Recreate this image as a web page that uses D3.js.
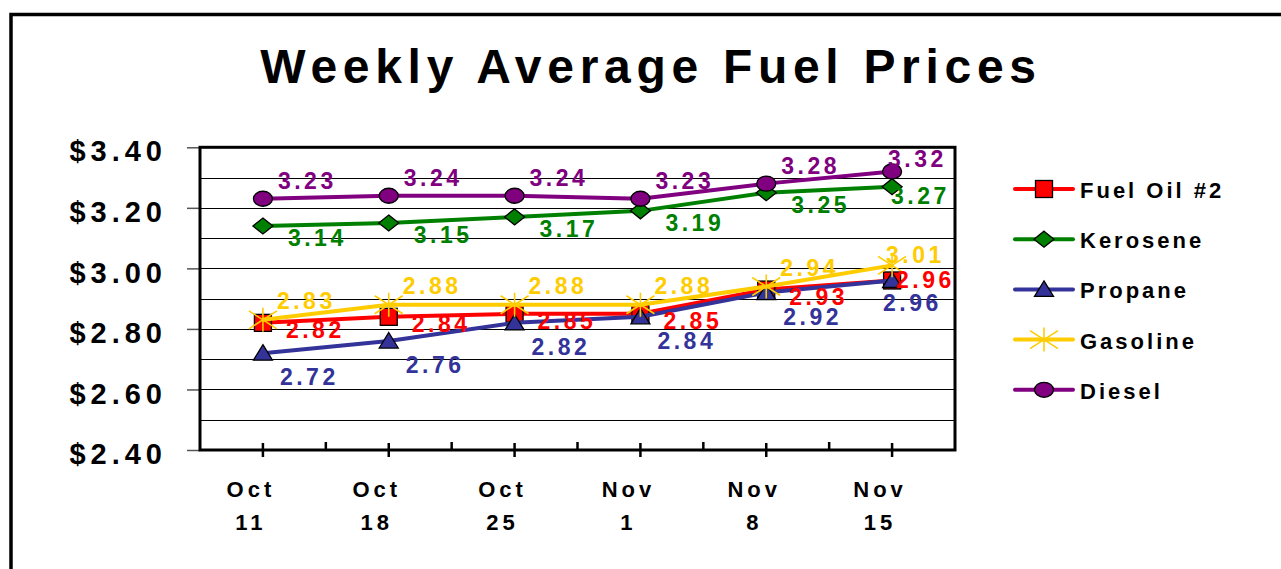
<!DOCTYPE html>
<html>
<head>
<meta charset="utf-8">
<script src="https://cdn.jsdelivr.net/npm/d3@7"></script>
<style>
  html, body { margin: 0; padding: 0; background: #fff; }
  svg { display: block; }
  text { font-family: "Liberation Sans", Arial, sans-serif; font-weight: bold; }
</style>
</head>
<body>
<svg id="chart" width="1281" height="569"></svg>
<script>
// ---------- data ----------
const title = "Weekly Average Fuel Prices";
const categories = ["Oct 11", "Oct 18", "Oct 25", "Nov 1", "Nov 8", "Nov 15"];
const seriesNames = ["Fuel Oil #2", "Kerosene", "Propane", "Gasoline", "Diesel"];
const fuelOil  = [2.82, 2.84, 2.85, 2.85, 2.93, 2.96];
const kerosene = [3.14, 3.15, 3.17, 3.19, 3.25, 3.27];
const propane  = [2.72, 2.76, 2.82, 2.84, 2.92, 2.96];
const gasoline = [2.83, 2.88, 2.88, 2.88, 2.94, 3.01];
const diesel   = [3.23, 3.24, 3.24, 3.23, 3.28, 3.32];
const yTickValues = [2.40, 2.60, 2.80, 3.00, 3.20, 3.40];
const yGridValues = [2.40, 2.50, 2.60, 2.70, 2.80, 2.90, 3.00, 3.10, 3.20, 3.30, 3.40];

const seriesValues = [fuelOil, kerosene, propane, gasoline, diesel];

// ---------- styles ----------
const styles = [
  { color: "#FF0000", marker: "square",   dx: 23, dy: 15, lastDx: 4,  lastDy: 8 },
  { color: "#008000", marker: "diamond",  dx: 25, dy: 20, lastDx: -1, lastDy: 17 },
  { color: "#333399", marker: "triangle", dx: 17, dy: 32, lastDx: -9, lastDy: 31 },
  { color: "#FFCC00", marker: "star",     dx: 14, dy: -11, lastDx: -6, lastDy: -2 },
  { color: "#800080", marker: "circle",   dx: 15, dy: -10, lastDx: -4, lastDy: -5 }
];

const svg = d3.select("#chart");
const W = 1281, H = 569;
const plot = { left: 200, right: 955, top: 147.3, bottom: 450 };

// outer frame
svg.append("rect")
  .attr("x", 11).attr("y", 14.5)
  .attr("width", W + 20).attr("height", H + 20)
  .attr("fill", "none").attr("stroke", "#000").attr("stroke-width", 3.5);

// title
svg.append("text")
  .attr("x", 648 + 3).attr("y", 82.5)
  .attr("text-anchor", "middle")
  .style("font-size", "48px")
  .style("letter-spacing", "5.7px")
  .attr("fill", "#000")
  .text(title);

// scales
const x = d3.scaleBand().domain(categories).range([plot.left, plot.right]);
const cx = d => x(d) + x.bandwidth() / 2;
const y = d3.scaleLinear().domain([2.4, 3.4]).range([plot.bottom, plot.top]);

// gridlines
svg.append("g").selectAll("line").data(yGridValues).join("line")
  .attr("x1", plot.left).attr("x2", plot.right)
  .attr("y1", d => Math.round(y(d)) + 0.5).attr("y2", d => Math.round(y(d)) + 0.5)
  .attr("stroke", "#000").attr("stroke-width", 1);

// y axis
const yAxis = svg.append("g")
  .attr("transform", `translate(${plot.left},0)`)
  .call(d3.axisLeft(y).tickValues(yTickValues).tickSize(13)
        .tickFormat(d => "$" + d.toFixed(2)));
yAxis.select(".domain").remove();
yAxis.selectAll(".tick line").attr("stroke", "#555").attr("stroke-width", 1.5);
yAxis.selectAll(".tick text")
  .attr("x", -33).attr("dy", "0.47em")
  .attr("fill", "#000")
  .style("font-size", "29px")
  .style("letter-spacing", "5px")
  .style("font-family", "'Liberation Sans', Arial, sans-serif")
  .style("font-weight", "bold");

// x axis (category centre ticks)
const xAxis = svg.append("g")
  .attr("transform", `translate(0,${plot.bottom})`)
  .call(d3.axisBottom(x).tickSize(7).tickFormat(""));
xAxis.select(".domain").remove();
xAxis.selectAll(".tick line").attr("y1", -7).attr("y2", 7)
  .attr("stroke", "#000").attr("stroke-width", 2.5);
// boundary ticks
const bounds = categories.slice(1).map(c => x(c));
svg.append("g").selectAll("line").data(bounds).join("line")
  .attr("x1", d => d).attr("x2", d => d)
  .attr("y1", plot.bottom - 8).attr("y2", plot.bottom)
  .attr("stroke", "#000").attr("stroke-width", 2.5);

// x labels (two lines)
const xl = svg.append("g").selectAll("text").data(categories).join("text")
  .attr("text-anchor", "middle")
  .style("font-size", "22px")
  .style("letter-spacing", "4px")
  .attr("fill", "#000");
xl.each(function(d) {
  const parts = d.split(" ");
  const t = d3.select(this);
  t.append("tspan").attr("x", cx(d) - 12).attr("y", 497).text(parts[0]);
  t.append("tspan").attr("x", cx(d) - 12).attr("y", 530).text(parts[1]);
});

// plot border
svg.append("rect")
  .attr("x", plot.left).attr("y", plot.top)
  .attr("width", plot.right - plot.left).attr("height", plot.bottom - plot.top)
  .attr("fill", "none").attr("stroke", "#000").attr("stroke-width", 3);

// marker drawing
function drawMarker(g, type, color) {
  if (type === "square") {
    g.append("rect").attr("x", -8.5).attr("y", -8.5).attr("width", 17).attr("height", 17)
      .attr("fill", color).attr("stroke", "#000").attr("stroke-width", 1.3);
  } else if (type === "diamond") {
    g.append("path").attr("d", "M0,-8L10,0L0,8L-10,0Z")
      .attr("fill", color).attr("stroke", "#000").attr("stroke-width", 1.3);
  } else if (type === "triangle") {
    g.append("path").attr("d", "M0,-8.5L9.5,7L-9.5,7Z")
      .attr("fill", color).attr("stroke", "#000").attr("stroke-width", 1.3);
  } else if (type === "circle") {
    g.append("ellipse").attr("rx", 9.5).attr("ry", 7.5)
      .attr("fill", color).attr("stroke", "#000").attr("stroke-width", 1.3);
  } else if (type === "star") {
    g.append("path").attr("d", "M0,-12L0,12M-14,-9L14,9M-14,9L14,-9")
      .attr("fill", "none").attr("stroke", color).attr("stroke-width", 1.6);
  }
}

// series
const line = d3.line().x(d => cx(d.c)).y(d => y(d.v));
seriesValues.forEach((vals, i) => {
  const st = styles[i];
  const pts = vals.map((v, j) => ({ c: categories[j], v }));
  const g = svg.append("g");
  g.append("path").datum(pts).attr("d", line)
    .attr("fill", "none").attr("stroke", st.color).attr("stroke-width", 4)
    .attr("stroke-linejoin", "round");
  pts.forEach(p => {
    const m = g.append("g").attr("transform", `translate(${cx(p.c)},${y(p.v)})`);
    drawMarker(m, st.marker, st.color);
  });
});

// data labels
seriesValues.forEach((vals, i) => {
  const st = styles[i];
  svg.append("g").selectAll("text").data(vals).join("text")
    .attr("x", (v, j) => cx(categories[j]) + (j === vals.length - 1 ? st.lastDx : st.dx))
    .attr("y", (v, j) => y(v) + (j === vals.length - 1 ? st.lastDy : st.dy))
    .attr("fill", st.color)
    .style("font-size", "23px")
    .style("letter-spacing", "3.5px")
    .text(v => v.toFixed(2));
});

// legend
const legend = svg.append("g");
seriesNames.forEach((name, i) => {
  const st = styles[i];
  const ly = 189 + i * 50.2;
  const g = legend.append("g");
  g.append("line").attr("x1", 1015).attr("x2", 1073).attr("y1", ly).attr("y2", ly)
    .attr("stroke", st.color).attr("stroke-width", 4).attr("stroke-linecap", "round");
  const m = g.append("g").attr("transform", `translate(1044,${ly})`);
  drawMarker(m, st.marker, st.color);
  g.append("text").attr("x", 1080).attr("y", ly + 9)
    .style("font-size", "22px").style("letter-spacing", "3px")
    .attr("fill", "#000").text(name);
});
</script>
</body>
</html>
